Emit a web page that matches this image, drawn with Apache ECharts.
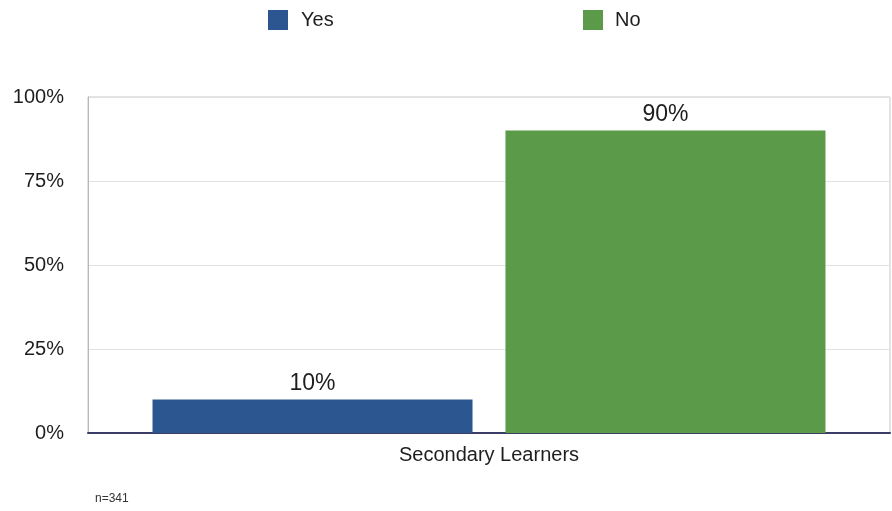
<!DOCTYPE html>
<html>
<head>
<meta charset="utf-8">
<script src="https://cdn.jsdelivr.net/npm/echarts@6/dist/echarts.min.js"></script>
<style>
  html, body { margin: 0; padding: 0; background: #fff; }
  #chart { width: 892px; height: 511px; }
</style>
</head>
<body>
<div id="chart"></div>
<script>
// Survey answers for one learner group, in percent
const categories = ['Secondary Learners'];
const yesValues = [10];
const noValues = [90];
const yTicks = [0, 25, 50, 75, 100];
const seriesNames = ['Yes', 'No'];
const sampleNote = 'n=341';

const chart = echarts.init(document.getElementById('chart'));
const FONT = 'Helvetica, "Liberation Sans", Arial, sans-serif';

const labelStyle = {
  show: true,
  position: 'top',
  distance: 4,
  formatter: '{c}%',
  fontFamily: FONT,
  fontSize: 23,
  color: '#1e1e1e'
};

const legendBase = {
  padding: 0,
  top: 10,
  itemWidth: 20,
  itemHeight: 20,
  icon: 'rect'
};

chart.setOption({
  animation: false,
  backgroundColor: '#fff',
  legend: [
    Object.assign({}, legendBase, {
      data: [seriesNames[0]],
      left: 268,
      textStyle: { fontFamily: FONT, fontSize: 20, color: '#1e1e1e', padding: [0, 0, 0, 8] }
    }),
    Object.assign({}, legendBase, {
      data: [seriesNames[1]],
      left: 583,
      textStyle: { fontFamily: FONT, fontSize: 20, color: '#1e1e1e', padding: [0, 0, 0, 7] }
    })
  ],
  grid: { left: 88, right: 2, top: 97, bottom: 78, show: true, borderColor: '#c8c8c8', borderWidth: 1 },
  xAxis: {
    type: 'category',
    data: categories,
    axisTick: { show: false },
    axisLine: { show: true, lineStyle: { color: '#3b3d66', width: 2 } },
    axisLabel: { fontFamily: FONT, fontSize: 20, color: '#1e1e1e', margin: 12 }
  },
  yAxis: {
    type: 'value',
    min: yTicks[0],
    max: yTicks[yTicks.length - 1],
    interval: yTicks[1] - yTicks[0],
    axisLine: { show: true, lineStyle: { color: '#b8b8b8', width: 1 } },
    axisTick: { show: false },
    splitLine: { lineStyle: { color: '#e2e2e2', width: 1 } },
    axisLabel: { fontFamily: FONT, fontSize: 20, color: '#1e1e1e', margin: 24, formatter: '{value}%' }
  },
  series: [
    {
      name: seriesNames[0],
      type: 'bar',
      data: yesValues,
      barWidth: 320,
      barGap: '10.3%',
      itemStyle: { color: '#2c5690' },
      label: labelStyle
    },
    {
      name: seriesNames[1],
      type: 'bar',
      data: noValues,
      barWidth: 320,
      itemStyle: { color: '#5b9a48' },
      label: labelStyle
    }
  ],
  graphic: [
    {
      type: 'text',
      left: 95, top: 493,
      style: { text: sampleNote, fontFamily: FONT, fontSize: 12, fill: '#333' }
    }
  ]
});
</script>
</body>
</html>
